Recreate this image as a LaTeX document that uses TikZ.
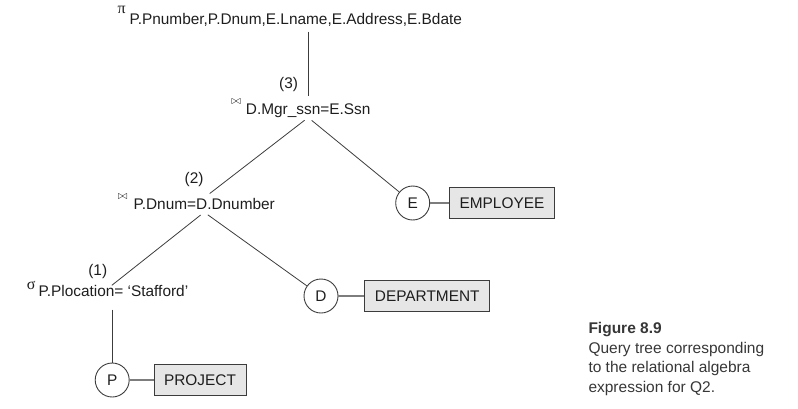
\documentclass[tikz,border=0pt]{standalone}
\usepackage{amsmath, amssymb}
\usepackage{fontspec}
\setmainfont{Liberation Sans}
\newfontfamily\greekfont{Liberation Serif}
\usepackage{tikz}
\usetikzlibrary{positioning}
\usetikzlibrary{calc}

\definecolor{linegray}{RGB}{60,60,60}
\definecolor{linkgray}{RGB}{125,125,125}
\definecolor{boxgray}{RGB}{230,230,230}
\definecolor{inkgray}{RGB}{30,30,30}
\definecolor{capgray}{RGB}{55,55,55}
\newcommand{\treefont}{\fontsize{15.4}{18.5}\selectfont}

\begin{document}
\begin{tikzpicture}[x=1pt, y=-1pt, node distance=20pt,
  op/.style={inner sep=0pt, text height=11pt, text depth=3pt, font=\treefont, text=inkgray},
  opsym/.style={inner sep=0pt, font=\greekfont\fontsize{16}{17}\selectfont, text=inkgray},
  joinsym/.style={inner sep=0pt, font=\fontsize{13}{14}\selectfont, text=inkgray},
  num/.style={inner sep=0pt, font=\treefont, text=inkgray},
  rel/.style={circle, draw=linegray, line width=0.9pt, minimum size=34pt, inner sep=0pt, font=\treefont, text=inkgray},
  relbox/.style={draw=linegray, line width=0.9pt, fill=boxgray, minimum height=31pt, inner xsep=10pt, inner ysep=0pt, text height=11pt, text depth=0pt, font=\treefont, text=inkgray},
  tree/.style={draw=linegray, line width=0.8pt, shorten <=4.5pt},
  link/.style={draw=linkgray, line width=1.2pt}]

\useasboundingbox (0,0) rectangle (798,408);

\node[op, anchor=base west] (proj) at (129.3,24) {P.Pnumber,P.Dnum,E.Lname,E.Address,E.Bdate};
\node[opsym, left=3.5pt of proj.north west, yshift=2.5pt] (projsym) {π};

\node[op, anchor=base west] (j3) at (245.7,114.3) {D.Mgr\_ssn=E.Ssn};
\node[joinsym, left=4.5pt of j3.north west, yshift=1pt] (j3sym) {$\bowtie$};
\node[num, above left=11.6pt and 10pt of j3.north] (n3) {(3)};

\node[op, anchor=base west] (j2) at (133.3,209) {P.Dnum=D.Dnumber};
\node[joinsym, left=5.5pt of j2.north west, yshift=1pt] (j2sym) {$\bowtie$};
\node[num, above left=10.7pt and 0.5pt of j2.north] (n2) {(2)};

\node[op, anchor=base west] (sel) at (38.3,296.5) {P.Plocation= ‘Stafford’};
\node[opsym, left=2.5pt of sel.north west] (selsym) {σ};
\node[num, above left=6.2pt and 6pt of sel.north] (n1) {(1)};

\node[rel] (E) at (412.7,203) {E};
\node[relbox, right=19pt of E] (emp) {EMPLOYEE};
\node[rel] (D) at (321,296) {D};
\node[relbox, right=26pt of D] (dept) {DEPARTMENT};
\node[rel] (P) at (112.2,380) {P};
\node[relbox, right=24pt of P] (proje) {PROJECT};

\node[inner sep=0pt, anchor=north west, align=left, text=capgray, font=\fontsize{15.5}{19.3}\selectfont] (cap) at (588.3,322.2) {\textbf{Figure 8.9}\\[0.7pt]Query tree corresponding\\to the relational algebra\\expression for Q2.};

\draw[tree, shorten >=7pt] (proj.south -| j3.north) -- (j3.north);
\draw[tree, shorten >=7pt] (j3.south) -- (j2.north);
\draw[tree] (j3.south) -- (E);
\draw[tree] (j2.south) -- ([xshift=-1.5pt]sel.north);
\draw[tree] (j2.south) -- (D);
\draw[tree, shorten <=10pt] (sel.south -| P) -- (P);
\draw[link] (E) -- (emp);
\draw[link] (D) -- (dept);
\draw[link] (P) -- (proje);

\end{tikzpicture}
\end{document}
